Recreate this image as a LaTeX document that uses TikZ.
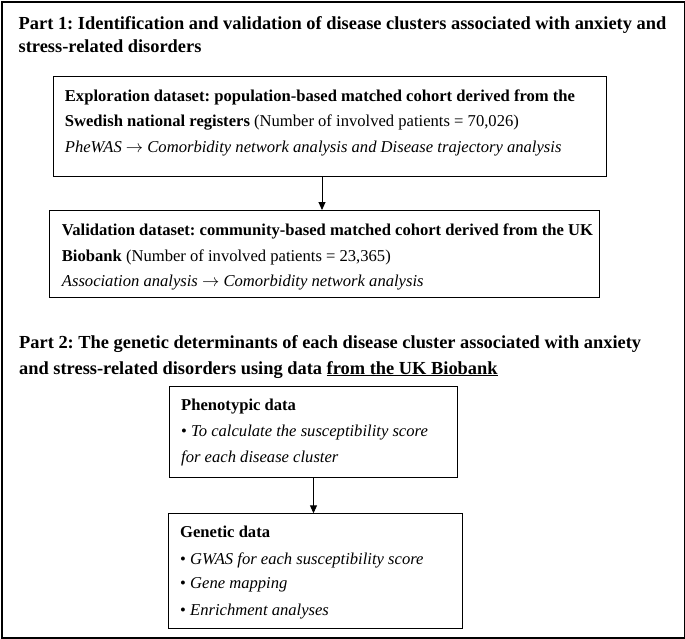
\documentclass[tikz,border=0pt]{standalone}
\usepackage{fontspec}
\setmainfont{Liberation Serif}
\usetikzlibrary{arrows.meta}
\frenchspacing
\begin{document}
\begin{tikzpicture}[x=1pt,y=-1pt,
  boxstyle/.style={draw,line width=1pt,inner sep=0,anchor=north west},
  txt/.style={anchor=base west,inner sep=0,font=\fontsize{16.6}{20}\selectfont},
  ttl/.style={anchor=base west,inner sep=0,font=\fontsize{18.4}{20}\selectfont\bfseries},
  arr/.style={-{Triangle[length=8pt,width=7pt]},line width=0.9pt}]
\useasboundingbox (0,0) rectangle (685,638);
\node[draw,line width=2pt,minimum width=683pt,minimum height=636pt,anchor=north west,inner sep=0] (frame) at (1,1) {};
% Part 1 title
\node[ttl] (t1a) at (18.5,29.3) {Part 1: Identification and validation of disease clusters associated with anxiety and};
\node[ttl] (t1b) at (18.5,52.3) {stress-related disorders};
% Box 1
\node[boxstyle,minimum width=553.5pt,minimum height=100pt] (box1) at (52.5,76) {};
\node[txt] (b1a) at (64.7,101) {\textbf{Exploration dataset: population-based matched cohort derived from the}};
\node[txt] (b1b) at (64.7,126.7) {\textbf{Swedish national registers} (Number of involved patients = 70,026)};
\node[txt] (b1c) at (64.7,152) {\itshape PheWAS $\rightarrow$ Comorbidity network analysis and Disease trajectory analysis};
% Box 2
\node[boxstyle,minimum width=549.2pt,minimum height=87.3pt] (box2) at (49.3,210) {};
\node[txt] (b2a) at (61.7,235) {\textbf{Validation dataset: community-based matched cohort derived from the UK}};
\node[txt] (b2b) at (61.7,261) {\textbf{Biobank} (Number of involved patients = 23,365)};
\node[txt] (b2c) at (61.7,286) {\itshape Association analysis $\rightarrow$ Comorbidity network analysis};
\coordinate (a1) at (322,0);
\draw[arr] (box1.south -| a1) -- (box2.north -| a1);
% Part 2 title
\node[ttl] (t2a) at (19,348) {Part 2: The genetic determinants of each disease cluster associated with anxiety};
\node[ttl] (t2b) at (19,374) {and stress-related disorders using data \underline{from the UK Biobank}};
% Box 3
\node[boxstyle,minimum width=288pt,minimum height=90.7pt] (box3) at (169,386) {};
\node[txt] (b3a) at (181,410.7) {\textbf{Phenotypic data}};
\node[txt] (b3b) at (181,436.7) {• \textit{To calculate the susceptibility score}};
\node[txt] (b3c) at (181,462.7) {\textit{for each disease cluster}};
% Box 4
\node[boxstyle,minimum width=294pt,minimum height=114.7pt] (box4) at (167.7,513.3) {};
\node[txt] (b4a) at (180,537.7) {\textbf{Genetic data}};
\node[txt] (b4b) at (180,564) {• \textit{GWAS for each susceptibility score}};
\node[txt] (b4c) at (180,588.3) {• \textit{Gene mapping}};
\node[txt] (b4d) at (180,615) {• \textit{Enrichment analyses}};
\draw[arr] (box3.south) -- (box3.south |- box4.north);
\end{tikzpicture}
\end{document}
